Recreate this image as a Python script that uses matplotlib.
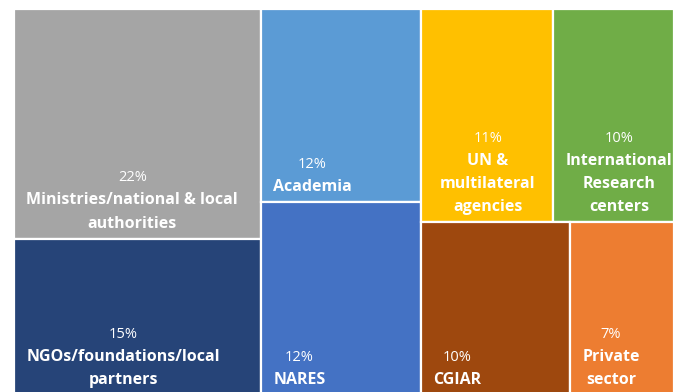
import matplotlib.pyplot as plt
from matplotlib.patches import Rectangle

# ── data ──────────────────────────────────────
labels = [
    "Ministries/national & local\nauthorities",
    "NGOs/foundations/local\npartners",
    "Academia",
    "NARES",
    "UN &\nmultilateral\nagencies",
    "International\nResearch\ncenters",
    "CGIAR",
    "Private\nsector",
]
shares = [22, 15, 12, 12, 11, 10, 10, 7]
colors = ["#A5A5A5", "#264478", "#5B9BD5", "#4472C4",
          "#FFC000", "#70AD47", "#9E480E", "#ED7D31"]

# columns -> rows -> tiles (indices into the lists above)
groups = [[[0], [1]], [[2], [3]], [[4, 5], [6, 7]]]

plt.rcParams["font.family"] = ["Open Sans", "DejaVu Sans"]

W, H = 682, 392
fig = plt.figure(figsize=(W / 100, H / 100), dpi=100)
ax = fig.add_axes([14 / W, -3 / H, 660 / W, 386 / H])
ax.set_xlim(0, 1)
ax.set_ylim(1, 0)
ax.axis("off")

total = sum(shares)
boxes = {}
x = 0.0
for col in groups:
    col_sum = sum(shares[i] for row in col for i in row)
    cw = col_sum / total
    y = 0.0
    for row in col:
        row_sum = sum(shares[i] for i in row)
        rh = row_sum / col_sum
        xx = x
        for i in row:
            w = cw * shares[i] / row_sum
            boxes[i] = (xx, y, w, rh)
            xx += w
        y += rh
    x += cw

for i, (bx, by, bw, bh) in boxes.items():
    ax.add_patch(Rectangle((bx, by), bw, bh, facecolor=colors[i],
                           edgecolor="white", linewidth=1.6))

# label block: left-anchored, lines centred, sits near the tile bottom
pads = {4: 14}
texts = {}
for i, (bx, by, bw, bh) in boxes.items():
    texts[i] = ax.annotate(labels[i], (bx, by + bh), xytext=(pads.get(i, 9), 5),
                           textcoords="offset points", ha="left", va="bottom",
                           multialignment="center", color="white",
                           fontsize=11.5, fontweight="bold", linespacing=1.6)

fig.canvas.draw()
inv = ax.transData.inverted()
for i, t in texts.items():
    bb = t.get_window_extent()
    cx, top = inv.transform(((bb.x0 + bb.x1) / 2, bb.y1))
    ax.annotate(f"{shares[i]}%", (cx, top), xytext=(0, 5),
                textcoords="offset points", ha="center", va="bottom",
                color="white", fontsize=10.5)

fig.savefig("out.png", dpi=100, facecolor="white")
